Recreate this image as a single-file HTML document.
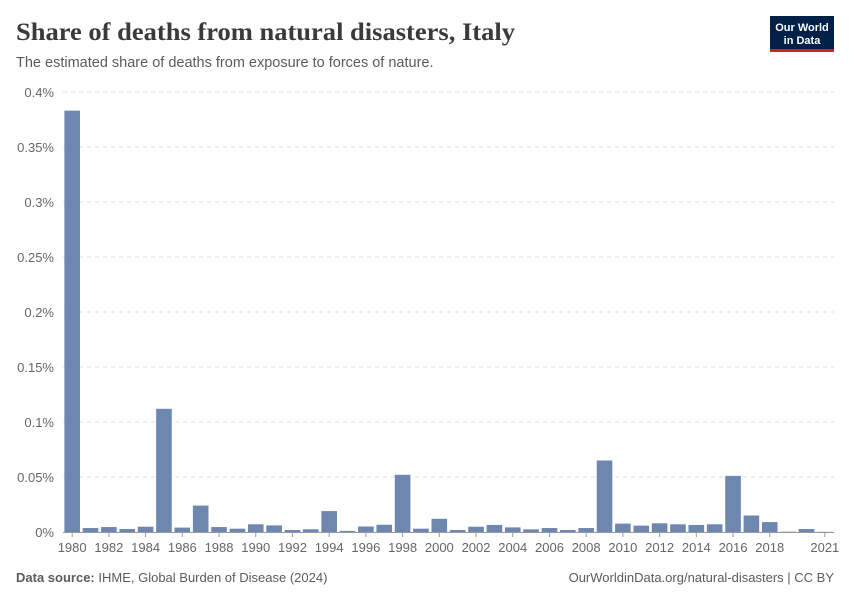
<!DOCTYPE html>
<html><head><meta charset="utf-8"><style>
body{margin:0;background:#fff;font-family:"Liberation Sans",sans-serif;}
#c{position:relative;width:850px;height:600px;}
</style></head><body><div id="c">
<svg width="850" height="600">
<text x="16" y="40" font-family="Liberation Serif,serif" font-size="25" font-weight="bold" fill="#3a3a3a" textLength="499" lengthAdjust="spacingAndGlyphs">Share of deaths from natural disasters, Italy</text>
<text x="16" y="67" font-size="14.5" fill="#5b5b5b">The estimated share of deaths from exposure to forces of nature.</text>
<g><rect x="770" y="16" width="64" height="36" fill="#002147"/><rect x="770" y="49" width="64" height="3" fill="#ce261e"/>
<text x="802" y="31" font-size="11" font-weight="bold" fill="#fff" text-anchor="middle">Our World</text><text x="802" y="44" font-size="11" font-weight="bold" fill="#fff" text-anchor="middle">in Data</text></g>
<g id="grid"></g><g id="bars"></g><g id="xaxis"></g>
<text x="16" y="582" font-size="13" fill="#5b5b5b"><tspan font-weight="bold">Data source:</tspan> IHME, Global Burden of Disease (2024)</text>
<text x="834" y="582" font-size="13" fill="#5b5b5b" text-anchor="end">OurWorldinData.org/natural-disasters | CC BY</text>
</svg></div>
<script>
const years=[];for(let y=1980;y<=2021;y++)years.push(y);
const values=[0.383,0.0036,0.0045,0.0027,0.0048,0.112,0.004,0.024,0.0045,0.003,0.007,0.006,0.0018,0.0025,0.019,0.001,0.005,0.0066,0.052,0.003,0.012,0.0018,0.0048,0.0064,0.0042,0.0024,0.0036,0.0018,0.0036,0.065,0.0076,0.0058,0.0079,0.007,0.0064,0.007,0.051,0.015,0.009,0.0003,0.0027,0.0002];
const yTicks=[0,0.05,0.1,0.15,0.2,0.25,0.3,0.35,0.4];
const yLabels=["0%","0.05%","0.1%","0.15%","0.2%","0.25%","0.3%","0.35%","0.4%"];
const xTicks=[1980,1982,1984,1986,1988,1990,1992,1994,1996,1998,2000,2002,2004,2006,2008,2010,2012,2014,2016,2018,2021];
const NS="http://www.w3.org/2000/svg";
const y0=532,y1=92,left=63,right=834;
const ys=v=>y0-(v/0.4)*(y0-y1);
const step=(right-left)/years.length;
const xs=yr=>left+(yr-1980+0.5)*step;
function mk(t,a,p){const e=document.createElementNS(NS,t);for(const k in a)e.setAttribute(k,a[k]);p.appendChild(e);return e;}
const g=document.getElementById('grid');
yTicks.forEach((t,i)=>{
 if(i>0){const l=mk('line',{x1:left,x2:right,y1:ys(t),y2:ys(t),stroke:'#ddd','stroke-dasharray':'4,4'},g);
 
 }
 const tx=mk('text',{x:54,y:ys(t)+5,'font-size':13,fill:'#666','text-anchor':'end'},g);tx.textContent=yLabels[i];
 
 
});
const b=document.getElementById('bars');
years.forEach((yr,i)=>{const h=y0-ys(values[i]);
 const r=mk('rect',{x:xs(yr)-7.8,y:ys(values[i]),width:15.6,height:Math.max(h,0),fill:'#6d87b1'},b);
 
 });
const xa=document.getElementById('xaxis');
const al=mk('line',{x1:left,x2:right,y1:y0+0.5,y2:y0+0.5,stroke:'#999'},xa);


xTicks.forEach(t=>{mk('line',{x1:xs(t),x2:xs(t),y1:y0,y2:y0+5,stroke:'#999'},xa);
 const tx=mk('text',{x:xs(t),y:552,'font-size':13,fill:'#666','text-anchor':'middle'},xa);tx.textContent=t;
 
 });
</script></body></html>
